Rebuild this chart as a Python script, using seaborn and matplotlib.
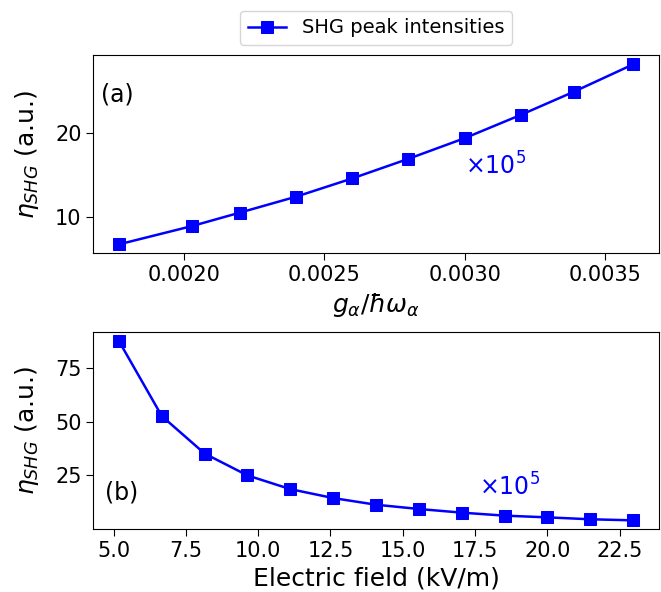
import matplotlib
matplotlib.use("Agg")
import matplotlib.pyplot as plt
import seaborn as sns
import pandas as pd

# Panel (a) data
g_ratio = [0.00177, 0.00203, 0.00220, 0.00240, 0.00260, 0.00280, 0.00300, 0.00320, 0.00339, 0.00360]
eta_a = [6.7, 8.88, 10.48, 12.38, 14.56, 16.9, 19.36, 22.14, 24.92, 28.17]

# Panel (b) data
efield = [5.19, 6.67, 8.15, 9.63, 11.11, 12.6, 14.08, 15.56, 17.04, 18.52, 20.0, 21.49, 22.97]
eta_b = [87.7, 52.7, 35.2, 25.0, 18.6, 14.4, 11.3, 9.3, 7.6, 6.2, 5.4, 4.5, 4.0]

legend_label = "SHG peak intensities"

df_a = pd.DataFrame({"x": g_ratio, "y": eta_a})
df_b = pd.DataFrame({"x": efield, "y": eta_b})

plt.rcParams["font.family"] = ["DejaVu Sans"]

fig = plt.figure(figsize=(6.61, 5.92), dpi=100)
ax1 = fig.add_axes([0.1412, 0.5721, 0.8558, 0.3345])
ax2 = fig.add_axes([0.1412, 0.1059, 0.8558, 0.3328])

style = dict(color="blue", marker="s", markersize=8, linewidth=1.8,
             markeredgecolor="blue")

sns.lineplot(data=df_a, x="x", y="y", ax=ax1, label=legend_label, **style)
sns.lineplot(data=df_b, x="x", y="y", ax=ax2, **style)

ax1.set_xlabel(r"$g_\alpha/\hbar\omega_\alpha$", fontsize=18)
ax1.set_ylabel(r"$\eta_{SHG}$ (a.u.)", fontsize=18, labelpad=10)
ax2.set_xlabel("Electric field (kV/m)", fontsize=18)
ax2.set_ylabel(r"$\eta_{SHG}$ (a.u.)", fontsize=18, labelpad=10)

ax1.set_xticks([0.0020, 0.0025, 0.0030, 0.0035])
ax1.set_xticklabels(["0.0020", "0.0025", "0.0030", "0.0035"])
ax1.set_yticks([10, 20])
ax2.set_xticks([5.0, 7.5, 10.0, 12.5, 15.0, 17.5, 20.0, 22.5])
ax2.set_yticks([25, 50, 75])

for ax in (ax1, ax2):
    ax.tick_params(labelsize=15, length=5)

ax1.text(0.014, 0.766, "(a)", transform=ax1.transAxes, fontsize=17,
         ha="left", va="baseline")
ax2.text(0.021, 0.149, "(b)", transform=ax2.transAxes, fontsize=17,
         ha="left", va="baseline")

ax1.text(0.003, 15.0, r"$\times10^5$", color="blue", fontsize=17,
         ha="left", va="baseline")
ax2.text(17.62, 15.7, r"$\times10^5$", color="blue", fontsize=17,
         ha="left", va="baseline")

handles, labels = ax1.get_legend_handles_labels()
ax1.get_legend().remove()
fig.legend(handles, labels, loc="upper center",
           bbox_to_anchor=(376 / 661, 1 - 1.0 / 592), fontsize=14)

fig.savefig("out.png", dpi=100)
